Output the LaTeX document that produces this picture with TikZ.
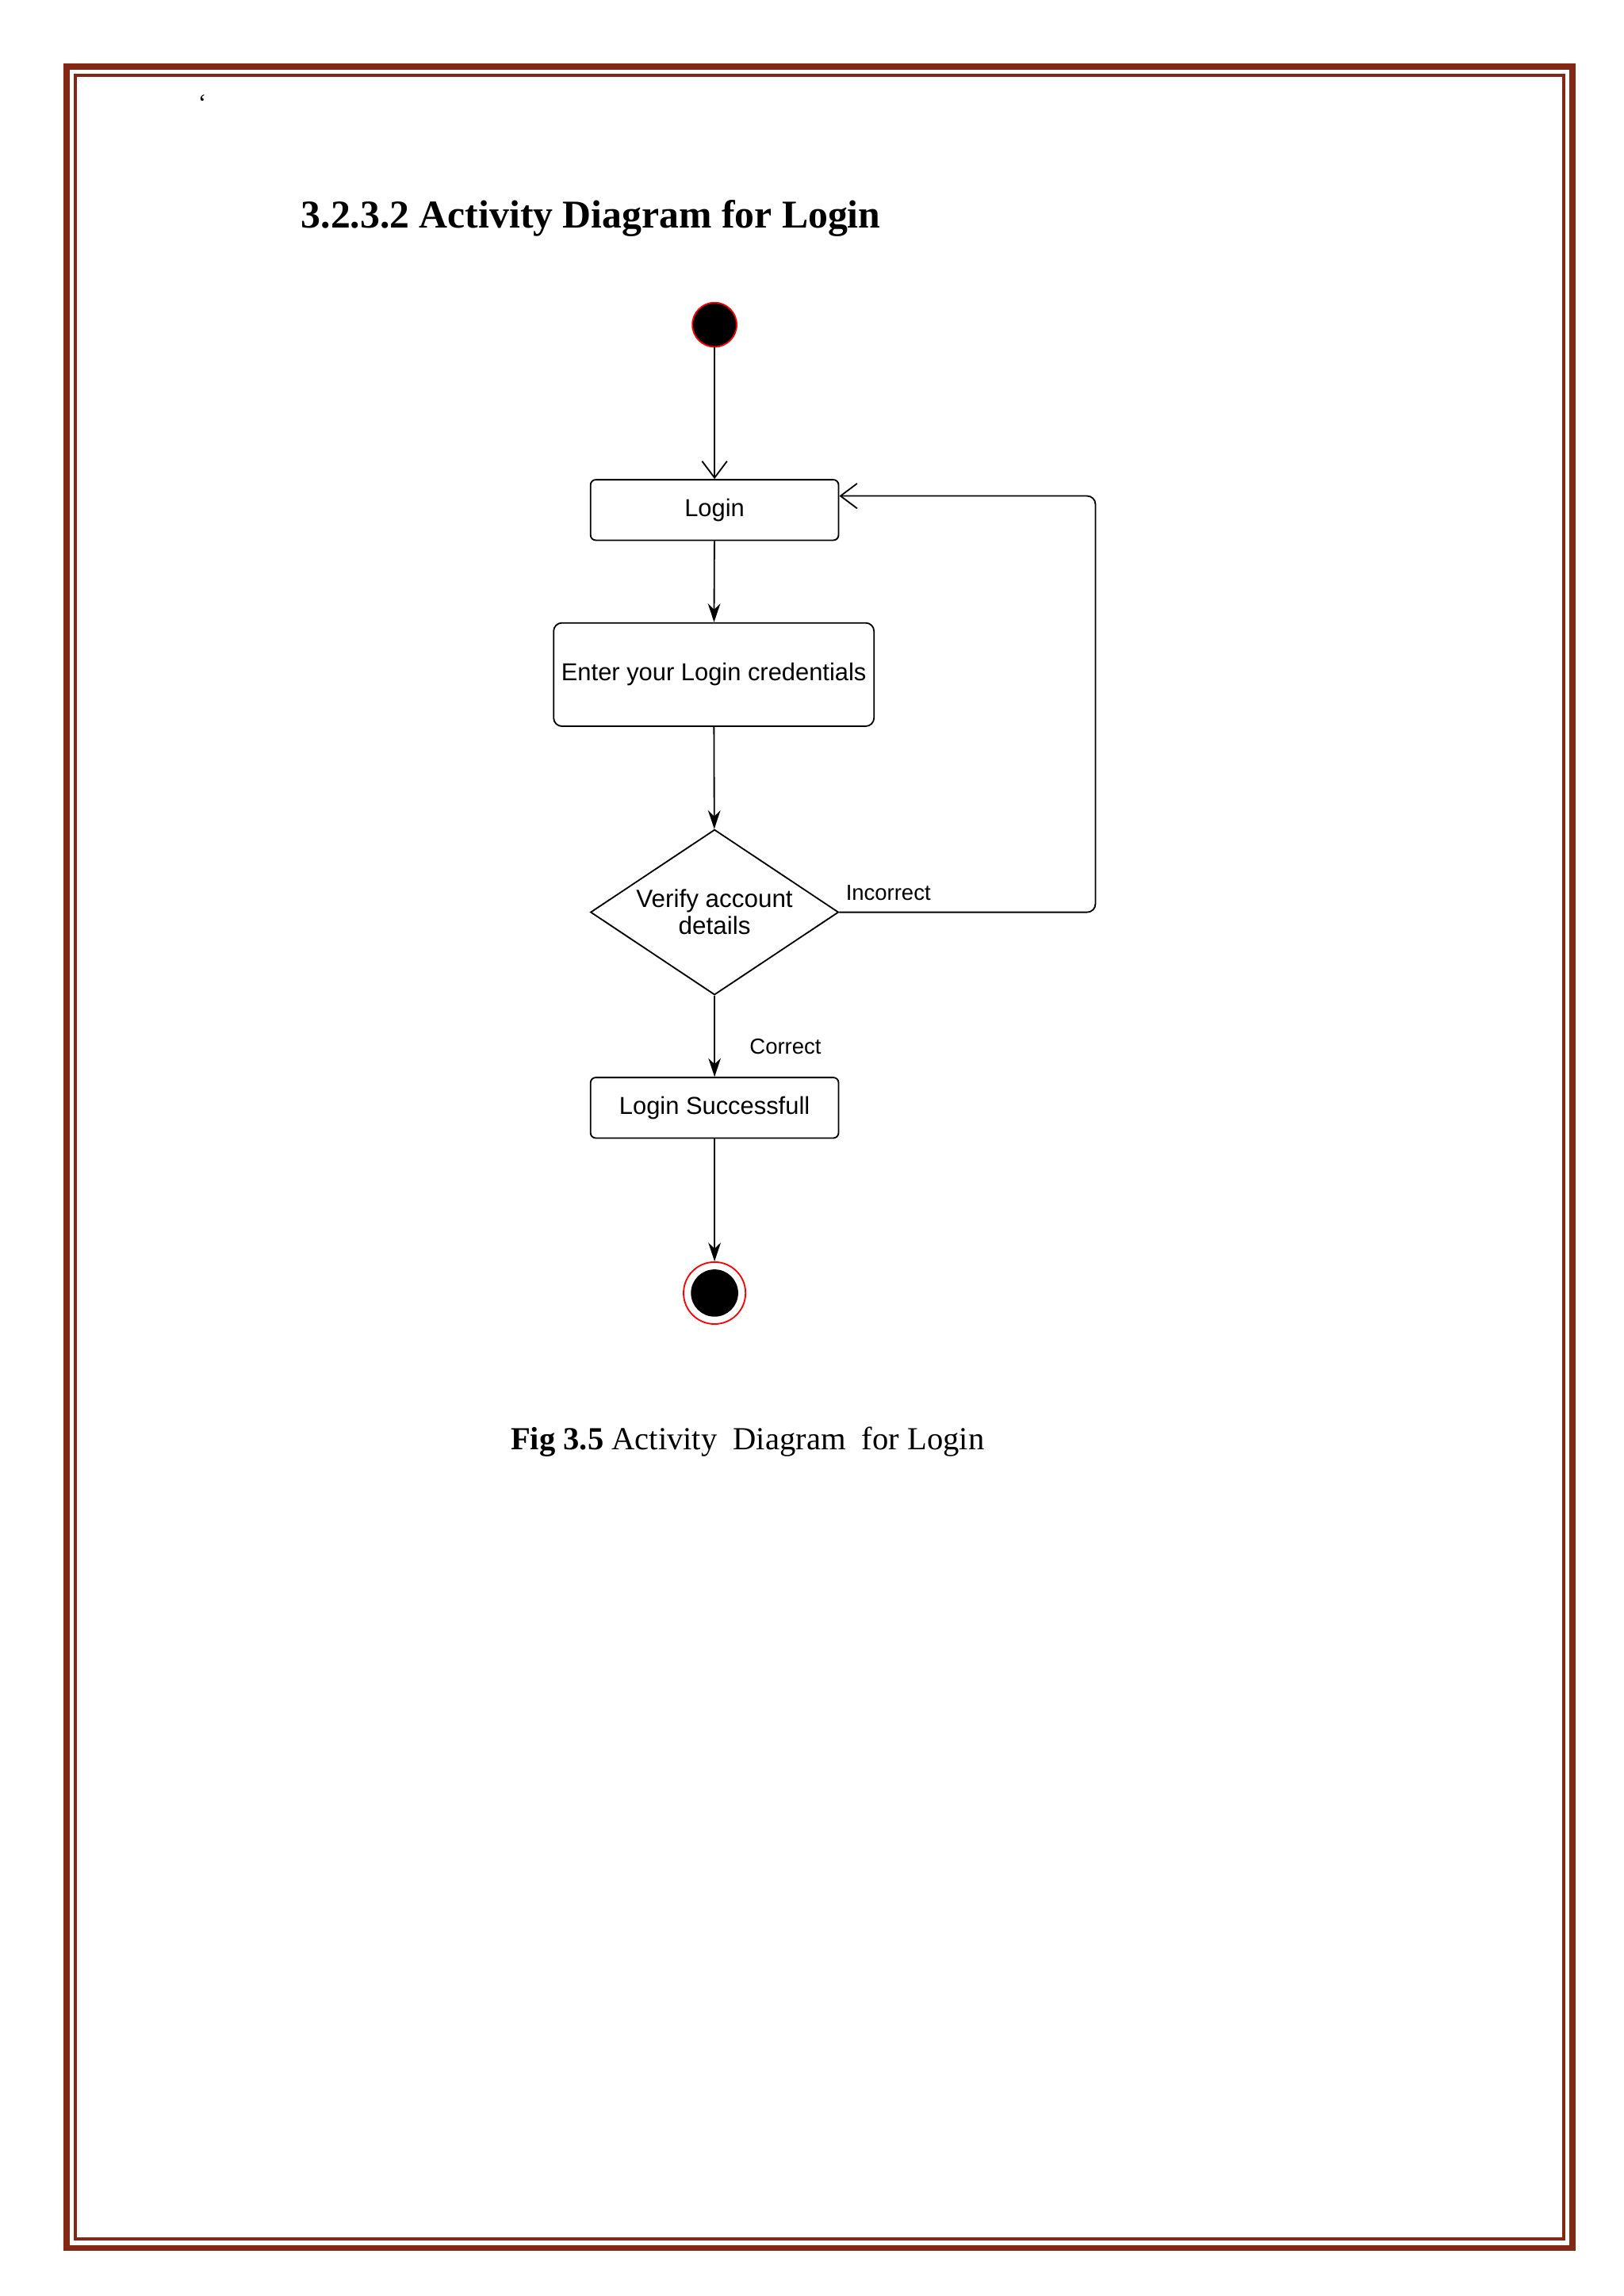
\documentclass[tikz,border=0pt]{standalone}
\usepackage{fontspec}
\setmainfont{Liberation Serif}
\newfontfamily\dsans{Liberation Sans}
\usetikzlibrary{shapes.geometric,arrows.meta}
\definecolor{brd}{RGB}{130,40,20}
\begin{document}
\begin{tikzpicture}[x=0.25mm,y=-0.25mm,
  box/.style={draw,rounded corners=2.5pt,line width=0.7pt,font=\dsans\fontsize{11.8}{13}\selectfont,inner sep=0pt},
  arr/.style={-{Stealth[length=9pt,width=6pt]},line width=0.7pt},
  oarr/.style={-{Straight Barb[length=8pt,width=12pt]},line width=0.7pt},
  lbl/.style={font=\dsans\fontsize{10.5}{12}\selectfont}]
\useasboundingbox (0,0) rectangle (1100,1555.5);
\fill[white] (0,0) rectangle (1100,1555.5);
\draw[brd,line width=1.0mm] (45,45) rectangle (1065,1523);
\draw[brd,line width=0.5mm] (51,51) rectangle (1059,1517);
\node at (137,70) {\fontsize{12}{14}\selectfont `};
\node[anchor=west] at (199,148) {\fontsize{19}{22}\selectfont\bfseries 3.2.3.2 Activity Diagram for Login};
\node[circle,fill=black,draw=red,line width=0.7pt,minimum size=30*0.25mm,inner sep=0] (start) at (484,220) {};
\node[box,minimum width=168*0.25mm,minimum height=41*0.25mm] (login) at (484,345.5) {Login};
\node[box,minimum width=217*0.25mm,minimum height=70*0.25mm,rounded corners=4pt] (enter) at (483.5,457) {Enter your Login credentials};
\node[diamond,draw,line width=0.7pt,aspect=1.5,minimum width=168*0.25mm,minimum height=112*0.25mm,inner sep=0,align=center,font=\dsans\fontsize{12}{13}\selectfont] (ver) at (484,618) {Verify account\\details};
\node[box,minimum width=168*0.25mm,minimum height=41*0.25mm] (succ) at (484,750.5) {Login Successfull};
\node[circle,draw=red,line width=0.7pt,minimum size=42*0.25mm,inner sep=0] (end) at (484,876) {};
\node[circle,fill=black,minimum size=32*0.25mm,inner sep=0] at (484,876) {};
\draw[oarr] (start) -- (login);
\draw[arr] (login) -- (enter);
\draw[arr] (enter) -- (ver);
\draw[arr] (ver) -- (succ);
\draw[arr] (succ) -- (end);
\coordinate (c1) at (742,618);
\coordinate (c2) at (742,336);
\draw[oarr,rounded corners=4pt] (ver.east) -- (c1) -- (c2) -- (login.east|-c2);
\node[lbl,anchor=west] at (568,605) {Incorrect};
\node[lbl] at (532,709) {Correct};
\node[anchor=west] at (341,977) {\fontsize{15.5}{17}\selectfont\textbf{Fig 3.5} Activity\ \ Diagram\ \ for Login};
\end{tikzpicture}
\end{document}
